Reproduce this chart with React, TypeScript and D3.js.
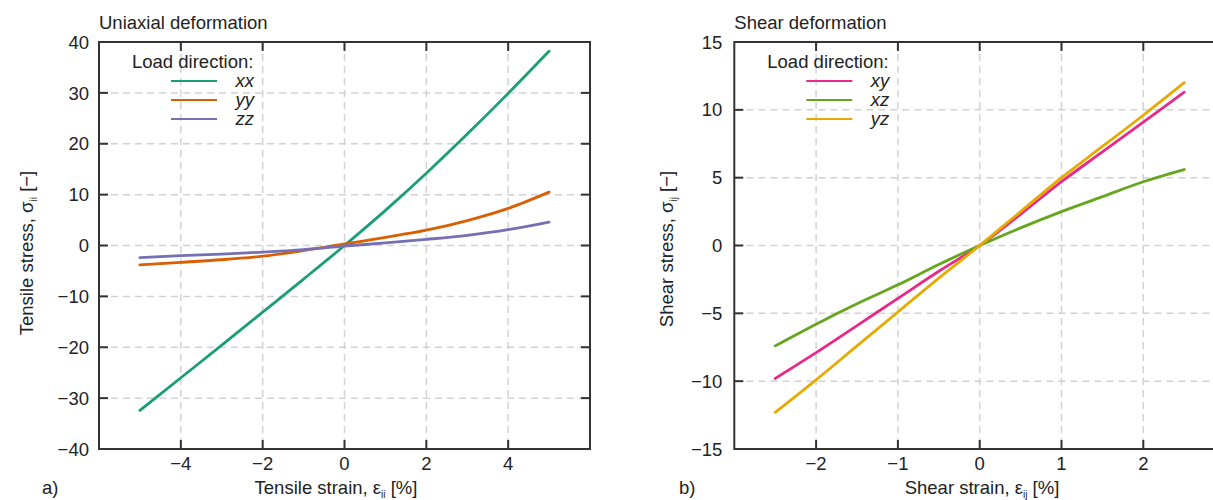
import React from "react";
import * as d3 from "d3";

// uniaxial (panel a)
const STRAIN_A = [-5, -4, -3, -2, -1, 0, 1, 2, 3, 4, 5];
const XX = [-32.4, -26.0, -19.6, -13.1, -6.6, 0.0, 6.9, 14.2, 21.9, 29.9, 38.2];
const YY = [-3.8, -3.3, -2.8, -2.1, -1.0, 0.3, 1.6, 3.0, 4.9, 7.3, 10.5];
const ZZ = [-2.4, -2.0, -1.7, -1.3, -0.8, -0.1, 0.5, 1.2, 2.0, 3.1, 4.6];
const X_TICKS_A = [-4, -2, 0, 2, 4];
const Y_TICKS_A = [-40, -30, -20, -10, 0, 10, 20, 30, 40];

// shear (panel b)
const STRAIN_B = [-2.5, -2, -1.5, -1, -0.5, 0, 0.5, 1, 1.5, 2, 2.5];
const XY = [-9.8, -7.9, -5.9, -3.9, -1.9, 0.0, 2.3, 4.7, 6.9, 9.1, 11.3];
const XZ = [-7.4, -5.8, -4.3, -2.9, -1.4, 0.0, 1.3, 2.5, 3.6, 4.7, 5.6];
const YZ = [-12.3, -9.9, -7.4, -4.9, -2.4, 0.0, 2.5, 5.0, 7.3, 9.6, 12.0];
const X_TICKS_B = [-2, -1, 0, 1, 2];
const Y_TICKS_B = [-15, -10, -5, 0, 5, 10, 15];

const FONT = "'Liberation Sans', Arial, Helvetica, sans-serif";
const FS = 18.5;
const TEXT = "#222";
const AXIS = "#333";
const GRID = "#d2d2d2";

type Series = { name: string; values: number[]; color: string };

type PanelProps = {
  left: number;
  width: number;
  xDomain: [number, number];
  yDomain: [number, number];
  xTicks: number[];
  yTicks: number[];
  strain: number[];
  series: Series[];
  title: string;
  letter: string;
  letterX: number;
  xLabel: string;
  xLabelX: number;
  yLabel: string;
  yLabelX: number;
  yLabelY: number;
  tickPad: number;
  sub: string;
};

const TOP = 42;
const BOTTOM = 449;

const fmt = (t: number) => d3.format("")(t).replace("-", "\u2212");

const Panel = (p: PanelProps) => {
  const x = d3.scaleLinear().domain(p.xDomain).range([p.left, p.left + p.width]);
  const y = d3.scaleLinear().domain(p.yDomain).range([BOTTOM, TOP]);
  const line = d3
    .line<number>()
    .x((_, i) => x(p.strain[i]))
    .y((d) => y(d))
    .curve(d3.curveMonotoneX);
  const right = p.left + p.width;
  const tick = 9;

  return (
    <g fontFamily={FONT} fill={TEXT} fontSize={FS}>
      {/* grid */}
      {p.xTicks.map((t) => (
        <line key={"gx" + t} x1={x(t)} x2={x(t)} y1={TOP} y2={BOTTOM}
          stroke={GRID} strokeWidth={1.5} strokeDasharray="7,5" />
      ))}
      {p.yTicks.slice(1, -1).map((t) => (
        <line key={"gy" + t} x1={p.left} x2={right} y1={y(t)} y2={y(t)}
          stroke={GRID} strokeWidth={1.5} strokeDasharray="7,5" />
      ))}

      {/* data */}
      {p.series.map((s) => (
        <path key={s.name} d={line(s.values) || ""} fill="none"
          stroke={s.color} strokeWidth={2.8} strokeLinecap="round" />
      ))}

      {/* frame + inward ticks */}
      <rect x={p.left} y={TOP} width={p.width} height={BOTTOM - TOP}
        fill="none" stroke={AXIS} strokeWidth={2} />
      {p.xTicks.map((t) => (
        <g key={"tx" + t} stroke={AXIS} strokeWidth={2}>
          <line x1={x(t)} x2={x(t)} y1={BOTTOM} y2={BOTTOM - tick} />
          <line x1={x(t)} x2={x(t)} y1={TOP} y2={TOP + tick} />
        </g>
      ))}
      {p.yTicks.map((t) => (
        <g key={"ty" + t} stroke={AXIS} strokeWidth={2}>
          <line x1={p.left} x2={p.left + tick} y1={y(t)} y2={y(t)} />
          <line x1={right} x2={right - tick} y1={y(t)} y2={y(t)} />
        </g>
      ))}

      {/* tick labels */}
      {p.xTicks.map((t) => (
        <text key={"lx" + t} x={x(t)} y={470} textAnchor="middle">{fmt(t)}</text>
      ))}
      {p.yTicks.map((t) => (
        <text key={"ly" + t} x={p.left - p.tickPad} y={y(t)} dy="0.36em" textAnchor="end">
          {fmt(t)}
        </text>
      ))}

      {/* titles */}
      <text x={p.left} y={29}>{p.title}</text>
      <text x={p.letterX} y={494}>{p.letter}</text>
      <text x={p.xLabelX} y={494} textAnchor="middle">
        {p.xLabel}, ε<tspan fontSize={10} dy={4}>{p.sub}</tspan>
        <tspan dy={-4}> [%]</tspan>
      </text>
      <text transform={`translate(${p.yLabelX},${p.yLabelY}) rotate(-90)`} textAnchor="middle">
        {p.yLabel}, σ<tspan fontSize={10} dy={4}>{p.sub}</tspan>
        <tspan dy={-4}> [−]</tspan>
      </text>

      {/* legend */}
      <text x={p.left + 33} y={68}>Load direction:</text>
      {p.series.map((s, i) => (
        <g key={"lg" + s.name}>
          <line x1={p.left + 72} x2={p.left + 118} y1={81 + i * 19} y2={81 + i * 19}
            stroke={s.color} strokeWidth={2} />
          <text x={p.left + 155} y={81 + i * 19} dy="0.33em" textAnchor="end"
            fontStyle="italic">{s.name}</text>
        </g>
      ))}
    </g>
  );
};

export default function App() {
  return (
    <svg width={1213} height={500} style={{ position: "absolute", left: 0, top: 0, background: "#fff" }}>
      <Panel
        left={99} width={491}
        xDomain={[-6, 6]} yDomain={[-40, 40]}
        xTicks={X_TICKS_A} yTicks={Y_TICKS_A}
        strain={STRAIN_A}
        series={[
          { name: "xx", values: XX, color: "#1b9e77" },
          { name: "yy", values: YY, color: "#d95f02" },
          { name: "zz", values: ZZ, color: "#7570b3" },
        ]}
        title="Uniaxial deformation" letter="a)" letterX={42}
        xLabel="Tensile strain" xLabelX={336}
        yLabel="Tensile stress" yLabelX={33} yLabelY={253} tickPad={10} sub="ii"
      />
      <Panel
        left={734.3} width={490.8}
        xDomain={[-3, 3]} yDomain={[-15, 15]}
        xTicks={X_TICKS_B} yTicks={Y_TICKS_B}
        strain={STRAIN_B}
        series={[
          { name: "xy", values: XY, color: "#e7298a" },
          { name: "xz", values: XZ, color: "#66a61e" },
          { name: "yz", values: YZ, color: "#e6ab02" },
        ]}
        title="Shear deformation" letter="b)" letterX={679}
        xLabel="Shear strain" xLabelX={982}
        yLabel="Shear stress" yLabelX={673} yLabelY={249} tickPad={12} sub="ij"
      />
    </svg>
  );
}
